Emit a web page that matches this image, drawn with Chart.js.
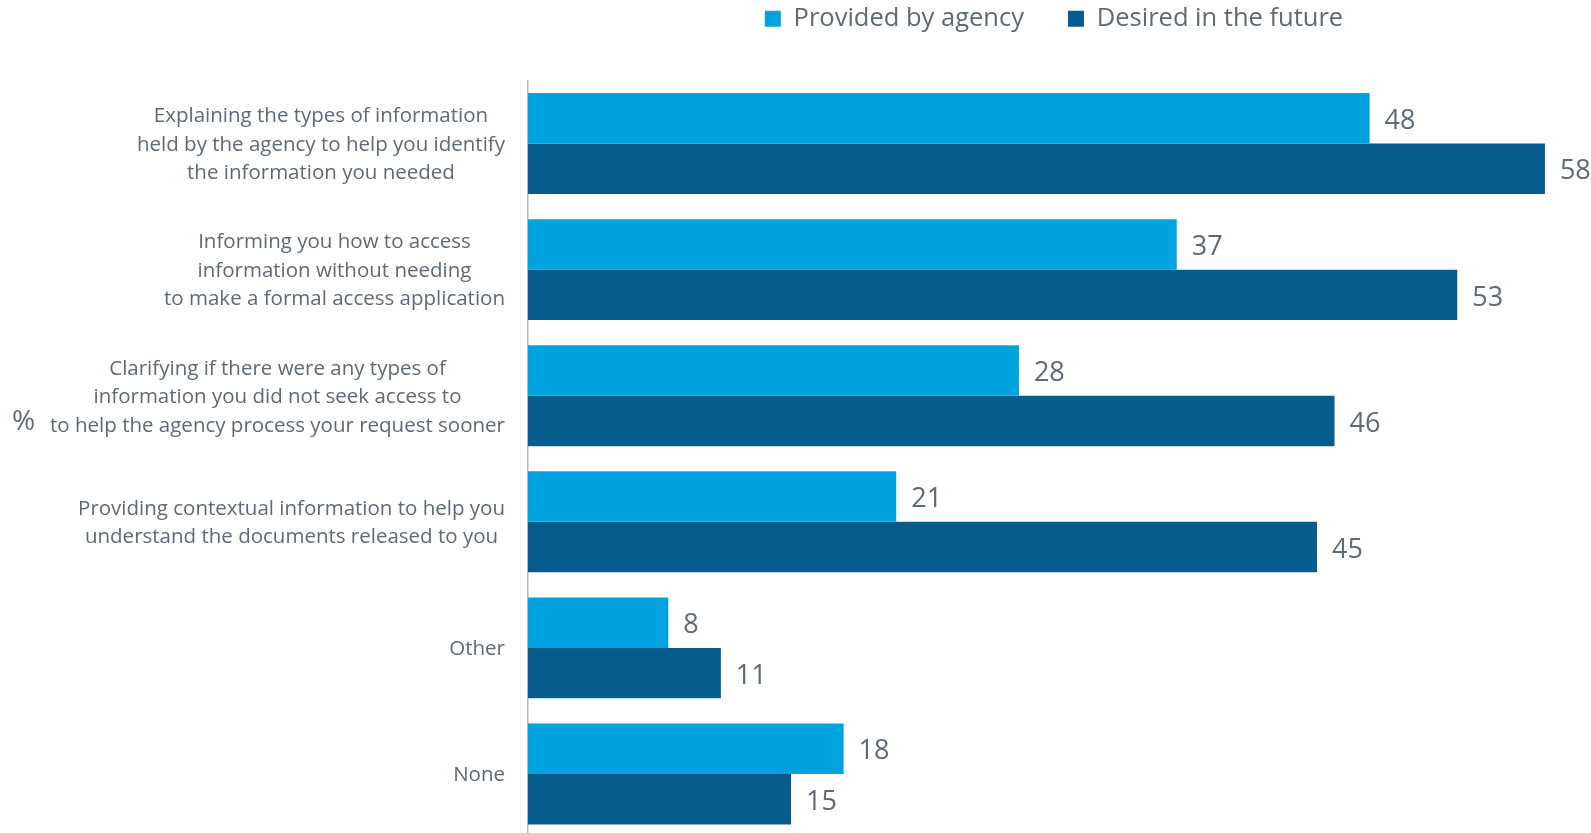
<!DOCTYPE html>
<html>
<head>
<meta charset="utf-8">
<script src="https://cdn.jsdelivr.net/npm/chart.js@4.4.1/dist/chart.umd.min.js"></script>
<style>
  html, body { margin: 0; padding: 0; background: #fff; overflow: hidden; }
  #wrap { position: relative; width: 1591px; height: 837px; }
</style>
</head>
<body>
<div id="wrap"><canvas id="infoChart"></canvas></div>
<script>
// Category labels, one array of lines per row
const categories = [
  ['Explaining the types of information', 'held by the agency to help you identify', 'the information you needed'],
  ['Informing you how to access', 'information without needing', 'to make a formal access application'],
  ['Clarifying if there were any types of', 'information you did not seek access to', 'to help the agency process your request sooner'],
  ['Providing contextual information to help you', 'understand the documents released to you'],
  ['Other'],
  ['None']
];
const providedByAgency = [48, 37, 28, 21, 8, 18];
const desiredInFuture = [58, 53, 46, 45, 11, 15];
const seriesNames = ['Provided by agency', 'Desired in the future'];
const axisUnit = '%';

const TEXT = '#5E6A75';
const FONT = '"Open Sans", "Noto Sans", sans-serif';

// Row labels: each block right-aligned, lines centred within the block
const categoryLabels = {
  id: 'categoryLabels',
  afterDraw(chart) {
    const { ctx } = chart;
    const y = chart.scales.y;
    ctx.save();
    ctx.font = `20.5px ${FONT}`;
    ctx.fillStyle = TEXT;
    ctx.textAlign = 'center';
    ctx.textBaseline = 'middle';
    const right = y.right - 23;
    const lineH = 28.5;
    categories.forEach((lines, i) => {
      const widest = Math.max(...lines.map(l => ctx.measureText(l).width));
      const cx = right - widest / 2;
      const cy = y.getPixelForValue(i) + 1.5;
      lines.forEach((l, k) => ctx.fillText(l, cx, cy + (k - (lines.length - 1) / 2) * lineH));
    });
    ctx.font = `28px ${FONT}`;
    ctx.textAlign = 'left';
    ctx.fillText(axisUnit, 12, chart.height / 2 + 4);
    ctx.restore();
  }
};

// Value labels just past the end of each bar
const valueLabels = {
  id: 'valueLabels',
  afterDatasetsDraw(chart) {
    const { ctx } = chart;
    ctx.save();
    ctx.font = `27px ${FONT}`;
    ctx.fillStyle = TEXT;
    ctx.textAlign = 'left';
    ctx.textBaseline = 'middle';
    chart.data.datasets.forEach((ds, d) => {
      chart.getDatasetMeta(d).data.forEach((bar, i) => {
        ctx.fillText(ds.data[i], bar.x + 15, bar.y + 3);
      });
    });
    ctx.restore();
  }
};

new Chart(document.getElementById('infoChart'), {
  type: 'bar',
  data: {
    labels: categories,
    datasets: [
      { label: seriesNames[0], data: providedByAgency, backgroundColor: '#00A3E0', categoryPercentage: 0.8, barPercentage: 1.0 },
      { label: seriesNames[1], data: desiredInFuture, backgroundColor: '#065C8C', categoryPercentage: 0.8, barPercentage: 1.0 }
    ]
  },
  options: {
    indexAxis: 'y',
    responsive: true,
    maintainAspectRatio: false,
    animation: false,
    layout: { padding: { top: -38, right: 11, left: 0, bottom: 0 } },
    scales: {
      x: {
        position: 'top',
        min: 0,
        max: 60,
        grid: { display: false },
        border: { display: false },
        ticks: { display: false },
        afterFit(scale) { scale.height = 39; }
      },
      y: {
        grid: { display: false },
        border: { color: '#A9B8C5', width: 1.5 },
        ticks: { display: false },
        afterFit(scale) { scale.width = 528; }
      }
    },
    plugins: {
      legend: {
        position: 'top',
        fullSize: false,
        align: 'center',
        labels: {
          boxWidth: 16,
          boxHeight: 16,
          padding: 44,
          color: TEXT,
          font: { family: FONT, size: 25.5 }
        }
      },
      tooltip: { enabled: false }
    }
  },
  plugins: [categoryLabels, valueLabels]
});
</script>
</body>
</html>
